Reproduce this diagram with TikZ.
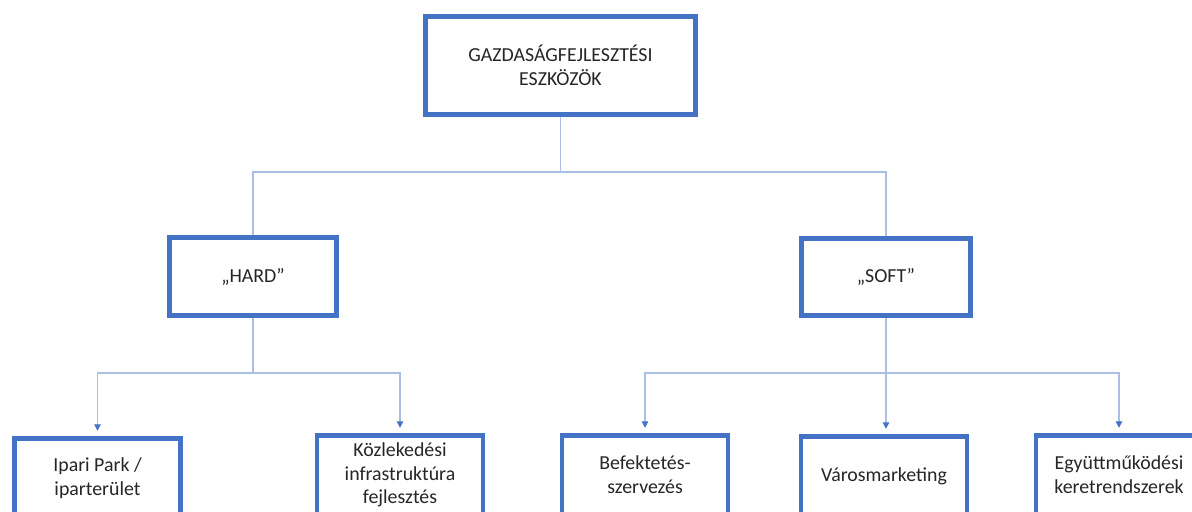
\documentclass[tikz,border=0pt]{standalone}
\usepackage{fontspec}
\setmainfont{Carlito}
\usetikzlibrary{arrows.meta}
\definecolor{boxblue}{HTML}{4472C4}
\definecolor{linkblue}{HTML}{A9BFE6}
\definecolor{textgray}{HTML}{262626}

\begin{document}
\begin{tikzpicture}[x=0.02cm, y=-0.02cm,
    font=\fontsize{11.3}{13.5}\selectfont,
    box/.style={draw=boxblue, line width=2.8pt, fill=white, text=textgray,
      align=center, inner sep=0pt, minimum width=3.32cm, minimum height=1.58cm},
    link/.style={draw=linkblue, line width=0.6pt},
    arrowlink/.style={link, -{Triangle[length=3.6pt, width=3.6pt, color=boxblue]},
      shorten >=3pt}]
  \useasboundingbox (0,0) rectangle (1192,511);
  \clip (0,0) rectangle (1192,511);
  % ---- bus heights ----
  \coordinate (busA) at (0,172);
  \coordinate (busB) at (0,373);
  % ---- top level ----
  \node[box, minimum width=5.4cm, minimum height=1.96cm] (root) at (560.5,65.5)
    {GAZDASÁGFEJLESZTÉSI\\ESZKÖZÖK};
  % ---- hard / soft ----
  \node[box, minimum width=3.34cm, minimum height=1.56cm] (hard) at (253,276.5) {„HARD”};
  \node[box, minimum width=3.38cm, minimum height=1.54cm] (soft) at (886,277) {„SOFT”};
  % ---- leaves ----
  \node[box] (ipari) at (97.5,478) {Ipari Park /\\iparterület};
  \node[box] (kozl) at (400,475) {Közlekedési\\infrastruktúra\\fejlesztés};
  \node[box] (befek) at (645,475) {Befektetés-\\szervezés};
  \node[box] (varos) at (884,476) {Városmarketing};
  \node[box] (egyutt) at (1119,475) {Együttműködési\\keretrendszerek};
  % ---- connectors ----
  \draw[link] (root) -- (root |- busA) -| (hard);
  \draw[link] (root |- busA) -| (soft);
  \draw[link] (hard) -- (hard |- busB);
  \draw[arrowlink] (hard |- busB) -| (ipari);
  \draw[arrowlink] (hard |- busB) -| (kozl);
  \draw[arrowlink] (soft) -- (soft |- varos.north);
  \draw[arrowlink] (soft |- busB) -| (befek);
  \draw[arrowlink] (soft |- busB) -| (egyutt);
\end{tikzpicture}
\end{document}
